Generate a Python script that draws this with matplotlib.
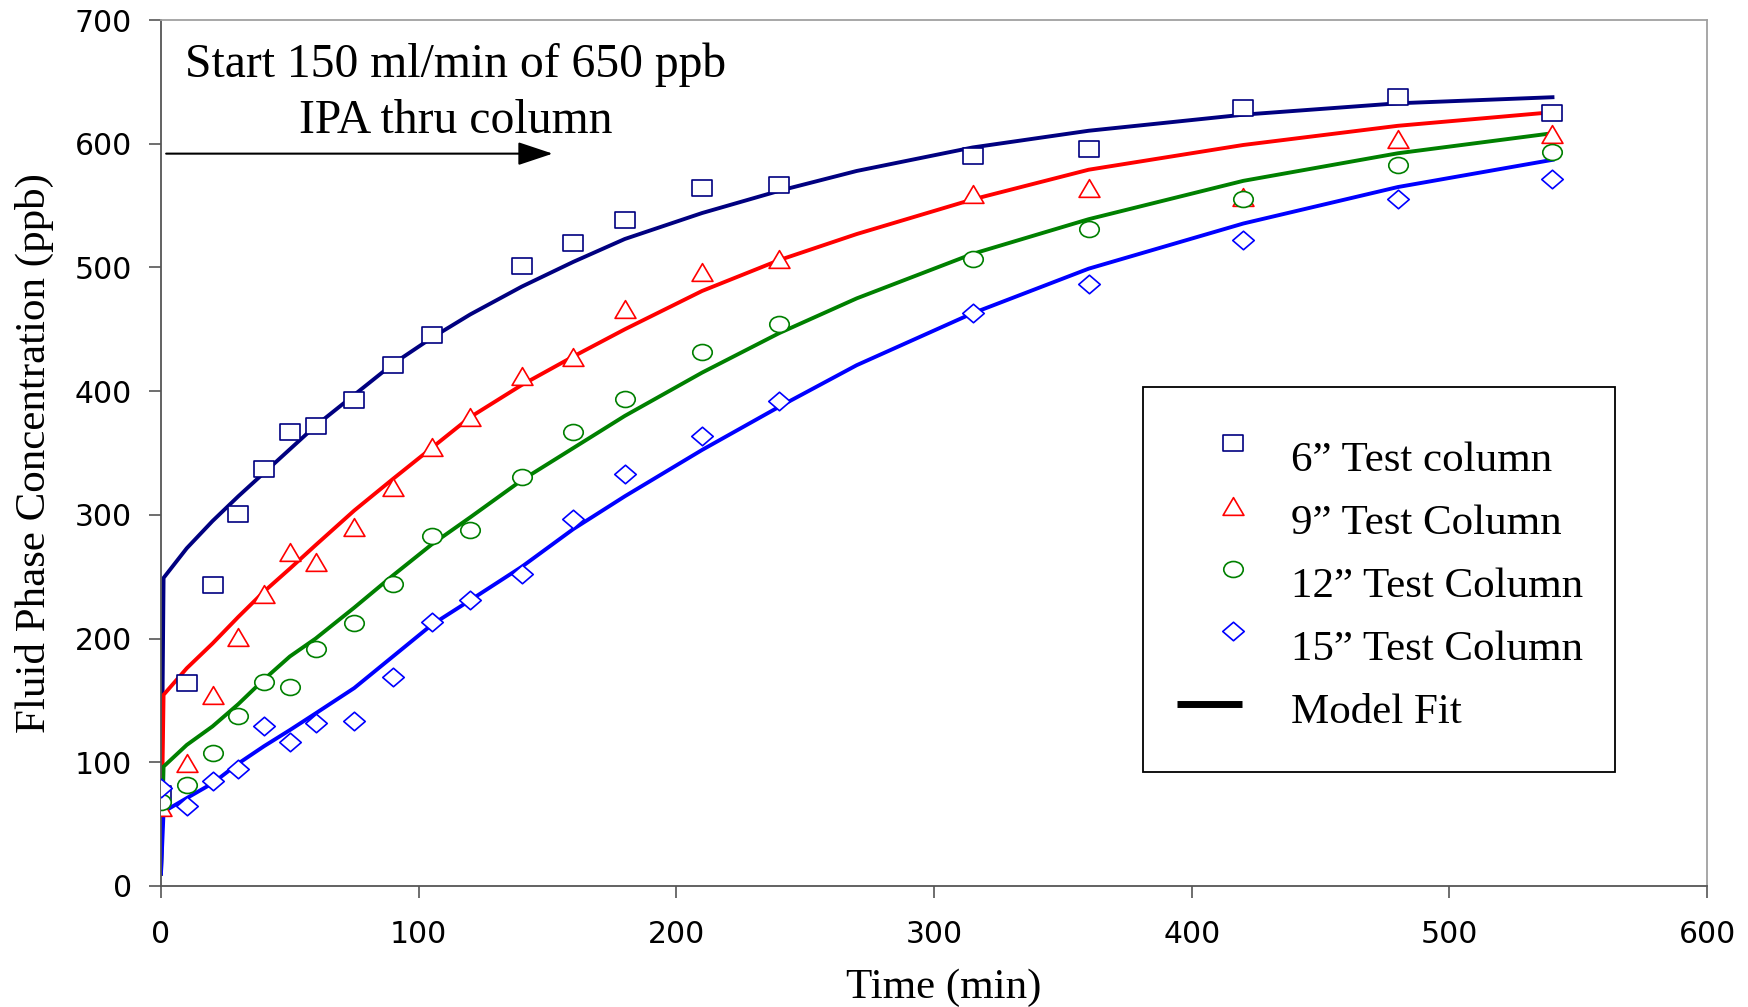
import numpy as np
import matplotlib
matplotlib.use("Agg")
import matplotlib.pyplot as plt
from matplotlib.path import Path
from matplotlib.transforms import Affine2D
from matplotlib.lines import Line2D
from matplotlib.patches import Rectangle
from matplotlib.legend_handler import HandlerLine2D

# measured breakthrough data (ppb) -- 6" column has no 120 min sample
t_obs = [0, 10, 20, 30, 40, 50, 60, 75, 90, 105, 120, 140, 160, 180, 210, 240, 315, 360, 420, 480, 540]
col6 = [74, 164, 243, 300.5, 337, 367, 372, 393, 421, 445.5, np.nan, 501, 520, 538.5, 564, 567, 590, 596, 629, 638, 625]
col9 = [64, 99, 154.5, 201, 236, 270, 261.5, 290, 322.5, 355, 379.5, 412, 428, 466.5, 496.5, 506.5, 559, 564, 557, 604, 608]
col12 = [68, 81.5, 107.5, 137, 164.5, 160.5, 191.5, 212.5, 244, 283, 288, 331, 367, 394, 432, 454, 507, 531, 555.5, 582.5, 593]
col15 = [79, 65, 84.5, 94.6, 129, 116, 131.5, 133.5, 169, 213, 231, 252, 296.7, 333, 364, 392, 463.5, 486.5, 522, 555, 571.5]

# model fit curves
t_fit = [0, 1, 10, 20, 30, 40, 50, 60, 75, 90, 105, 120, 140, 160, 180, 210, 240, 270, 315, 360, 420, 480, 540]
fit6 = [10, 249, 273, 295, 315, 334, 353, 372, 397, 422, 443, 462, 484.5, 504.5, 523, 544, 562, 578, 597, 610.5, 623.5, 632.7, 637.6]
fit9 = [10, 154.5, 176, 196, 217.5, 238, 256.5, 275.5, 303.5, 329, 354, 379, 405, 428, 450, 481, 506, 527, 555, 579, 599, 614.5, 625.5]
fit12 = [10, 96.5, 114, 129, 147, 167, 185.5, 200, 225, 251, 276, 298, 328, 354, 380, 415, 447, 475, 511, 539, 570, 592.3, 608.5]
fit15 = [10, 60, 71, 83, 99, 113, 126, 139.5, 160, 185.5, 211, 231, 258, 288.5, 315, 352.5, 387.5, 421, 463, 499, 535.5, 565, 587]

labels = ["6\u201d Test column", "9\u201d Test Column", "12\u201d Test Column", "15\u201d Test Column", "Model Fit"]
colors = ["#000080", "#ff0000", "#008000", "#0000ff"]

# excel markers come out a bit wider than tall
sq = Path([(-1, -0.85), (1, -0.85), (1, 0.85), (-1, 0.85), (-1, -0.85)], closed=True)
tri = Path([(0, 0.85), (-1, -0.85), (1, -0.85), (0, 0.85)], closed=True)
ell = Path.unit_circle().transformed(Affine2D().scale(1, 0.82))
dia = Path([(0, 0.86), (1, 0), (0, -0.86), (-1, 0), (0, 0.86)], closed=True)
markers = [sq, tri, ell, dia]
msizes = [14, 15, 14, 15.5]

serif = "Liberation Serif"

fig = plt.figure(figsize=(17.48, 10.07), dpi=100)
ax = fig.add_axes([0.0921, 0.1202, 0.8845, 0.8599])

for fit, c in zip([fit6, fit9, fit12, fit15], colors):
    ax.plot(t_fit, fit, color=c, lw=2.8, zorder=2)

handles = []
for y, c, m, ms in zip([col6, col9, col12, col15], colors, markers, msizes):
    ax.plot(t_obs, y, ls="none", marker=m, ms=ms, mfc="white", mec=c, mew=1.2, zorder=3)
    handles.append(Line2D([], [], ls="none", marker=m, ms=ms, mfc="white", mec=c, mew=1.2))
handles.append(Line2D([], [], color="black", lw=5, solid_capstyle="butt"))

ax.set_xlim(0, 600)
ax.set_ylim(0, 700)
ax.set_xticks(range(0, 601, 100))
ax.set_yticks(range(0, 701, 100))
ax.tick_params(axis="both", direction="out", length=8.5, width=1.2, color="#555555", labelsize=21.5)
ax.tick_params(axis="x", pad=16)
ax.tick_params(axis="y", pad=12.5)
for lab in ax.get_xticklabels() + ax.get_yticklabels():
    lab.set_family("DejaVu Sans")

for s in ["left", "bottom"]:
    ax.spines[s].set_color("#555555")
    ax.spines[s].set_linewidth(1.3)
for s in ["top", "right"]:
    ax.spines[s].set_color("#a0a0a0")
    ax.spines[s].set_linewidth(1.3)

ax.set_xlabel("Time (min)", family=serif, fontsize=31)
ax.set_ylabel("Fluid Phase Concentration (ppb)", family=serif, fontsize=31)
ax.xaxis.set_label_coords(0.506, -0.0955)
ax.yaxis.set_label_coords(-0.069, 0.5)

ax.text(114.5, 654, "Start 150 ml/min of 650 ppb", ha="center", va="baseline", family=serif, fontsize=34.3)
ax.text(114.5, 609, "IPA thru column", ha="center", va="baseline", family=serif, fontsize=34.3)
ax.annotate("", xy=(152, 592), xytext=(2, 592),
            arrowprops=dict(arrowstyle="-|>,head_length=0.6,head_width=0.2", color="black",
                            lw=1.5, mutation_scale=36, shrinkA=0, shrinkB=0))


class LiftedHandle(HandlerLine2D):
    # source legend: symbols sit near the right end of the handle and a bit above the text
    def __init__(self, xfrac=0.5, lift=0.0, **kw):
        super().__init__(**kw)
        self.xfrac = xfrac
        self.lift = lift

    def get_xdata(self, legend, xdescent, ydescent, width, height, fontsize):
        if self.xfrac == 0.5:
            return super().get_xdata(legend, xdescent, ydescent, width, height, fontsize)
        xm = -xdescent + self.xfrac * width
        return np.array([xm - 1, xm + 1]), np.array([xm])

    def create_artists(self, legend, orig_handle, xdescent, ydescent, width, height, fontsize, trans):
        arts = super().create_artists(legend, orig_handle, xdescent, ydescent, width, height, fontsize, trans)
        for a in arts:
            a.set_ydata(np.asarray(a.get_ydata()) + self.lift * height)
        return arts


hmap = {h: LiftedHandle(0.86, 0.44) for h in handles[:4]}
hmap[handles[4]] = LiftedHandle(0.5, 0.1)

# legend box drawn separately: the source has more room above/below than at the sides
ax.add_patch(Rectangle((0.635, 0.1316), 0.3055, 0.4446, transform=ax.transAxes,
                       fc="white", ec="black", lw=1.3, zorder=4))
leg = ax.legend(handles, labels, loc="upper left", bbox_to_anchor=(0.6572, 0.5137),
                borderaxespad=0, borderpad=0, frameon=False,
                prop={"family": serif, "size": 31}, handlelength=1.5, handletextpad=1.15,
                labelspacing=0.55, handler_map=hmap)
leg.set_zorder(5)

fig.savefig("out.png", dpi=100)
